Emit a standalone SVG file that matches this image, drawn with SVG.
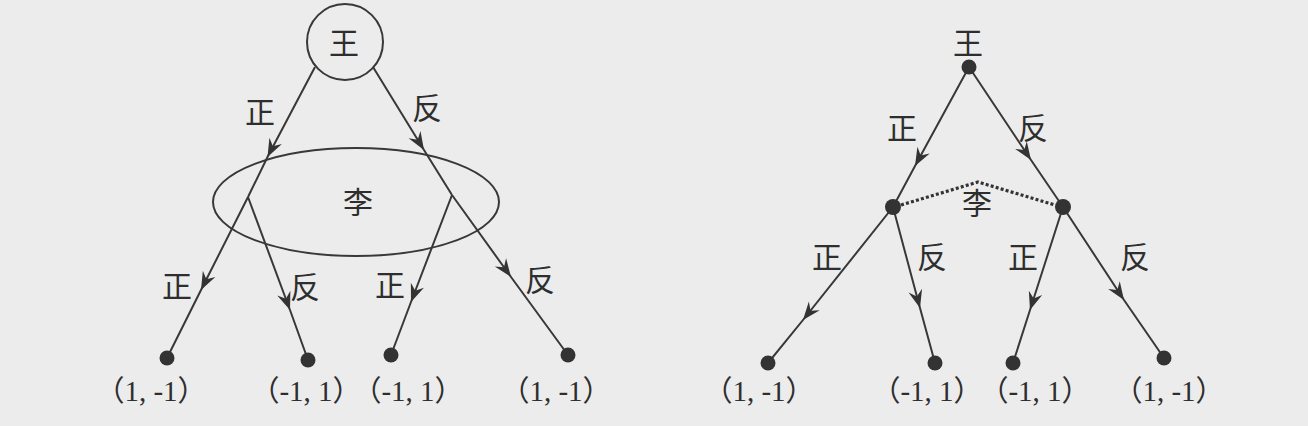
<svg xmlns="http://www.w3.org/2000/svg" width="1308" height="426" viewBox="0 0 1308 426">
<defs>
<marker id="arr" markerUnits="userSpaceOnUse" markerWidth="22" markerHeight="16" viewBox="-19 -8 20 16" refX="0" refY="0" orient="auto">
<path d="M0,0 L-18,-7 L-12,0 L-18,7 Z" fill="#333"/>
</marker>
<style>
.bg{fill:#ececec}
.e{fill:none;stroke:#383838;stroke-width:2;marker-mid:url(#arr)}
.ln{fill:none;stroke:#383838;stroke-width:2}
.dot{fill:#333}
.cn{font-family:"Noto Sans CJK SC","Noto Sans CJK JP",sans-serif;font-size:30px;fill:#2e2e2e;text-anchor:middle}
.pay{font-family:"Liberation Serif","Noto Sans CJK SC",serif;font-size:29px;fill:#2e2e2e;text-anchor:middle}
.dash{fill:none;stroke:#333;stroke-width:3.2;stroke-dasharray:3 2.2}
</style>
</defs>
<rect class="bg" x="0" y="0" width="1308" height="426"/>

<g id="connectors">
<!-- left figure -->
<path class="e" d="M315,67 L267.5,157 L248,197"/>
<path class="e" d="M373,67 L424,150 L452,195"/>
<path class="e" d="M248,197 L201,290 L167,358"/>
<path class="e" d="M248,197 L290,310 L308,360"/>
<path class="e" d="M452,195 L411,302 L391,355"/>
<path class="e" d="M452,195 L511,277 L568,355"/>
<!-- right figure -->
<path class="e" d="M969,67 L915,166 L893,207"/>
<path class="e" d="M969,67 L1031,160 L1063,207"/>
<path class="e" d="M893,207 L803,320 L768,363"/>
<path class="e" d="M893,207 L920,308 L935,363"/>
<path class="e" d="M1063,207 L1030,310 L1013,363"/>
<path class="e" d="M1063,207 L1124,300 L1164,358"/>
<!-- edge labels -->
<text class="cn" x="260" y="123">正</text>
<text class="cn" x="427" y="119">反</text>
<text class="cn" x="177" y="297">正</text>
<text class="cn" x="305" y="298">反</text>
<text class="cn" x="390" y="296">正</text>
<text class="cn" x="540" y="291">反</text>
<text class="cn" x="902" y="139">正</text>
<text class="cn" x="1033" y="139">反</text>
<text class="cn" x="827" y="268">正</text>
<text class="cn" x="932" y="268">反</text>
<text class="cn" x="1023" y="268">正</text>
<text class="cn" x="1135" y="268">反</text>
</g>

<!-- left figure nodes -->
<g id="wang-left">
<circle class="ln" cx="345" cy="42" r="38"/>
<text class="cn" x="344" y="54">王</text>
</g>
<g id="li-left">
<ellipse class="ln" cx="356" cy="202" rx="143" ry="54"/>
<text class="cn" x="358" y="213">李</text>
</g>
<g id="leaf-l1"><circle class="dot" cx="167" cy="358" r="7.5"/><text class="pay" x="151" y="401">（1, -1）</text></g>
<g id="leaf-l2"><circle class="dot" cx="308" cy="360" r="7.5"/><text class="pay" x="306" y="401">（-1, 1）</text></g>
<g id="leaf-l3"><circle class="dot" cx="391" cy="355" r="7.5"/><text class="pay" x="408" y="401">（-1, 1）</text></g>
<g id="leaf-l4"><circle class="dot" cx="568" cy="355" r="7.5"/><text class="pay" x="556" y="401">（1, -1）</text></g>

<!-- right figure nodes -->
<g id="wang-right">
<circle class="dot" cx="969" cy="67" r="7.5"/>
<text class="cn" x="968" y="54">王</text>
</g>
<g id="li-right">
<path class="dash" d="M901,205 L978,182 L1055,205"/>
<circle class="dot" cx="893" cy="207" r="8"/>
<circle class="dot" cx="1063" cy="207" r="8"/>
<text class="cn" x="977" y="214">李</text>
</g>
<g id="leaf-r1"><circle class="dot" cx="768" cy="363" r="7.5"/><text class="pay" x="759" y="401">（1, -1）</text></g>
<g id="leaf-r2"><circle class="dot" cx="935" cy="363" r="7.5"/><text class="pay" x="927" y="401">（-1, 1）</text></g>
<g id="leaf-r3"><circle class="dot" cx="1013" cy="363" r="7.5"/><text class="pay" x="1035" y="401">（-1, 1）</text></g>
<g id="leaf-r4"><circle class="dot" cx="1164" cy="358" r="7.5"/><text class="pay" x="1169" y="401">（1, -1）</text></g>
</svg>
